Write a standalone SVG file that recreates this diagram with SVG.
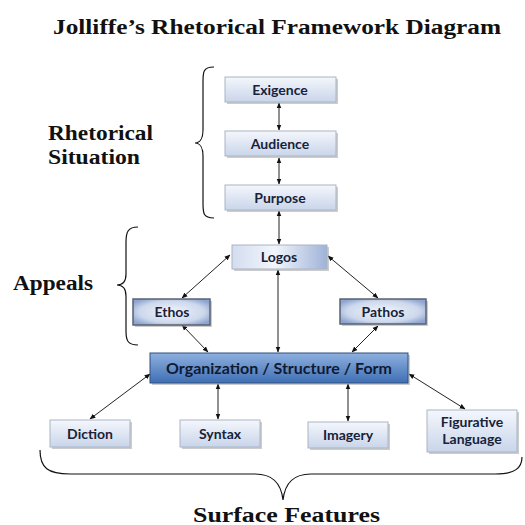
<svg xmlns="http://www.w3.org/2000/svg" width="525" height="525" viewBox="0 0 525 525">
<defs>
<linearGradient id="gLight" x1="0" y1="0" x2="0" y2="1">
<stop offset="0" stop-color="#f4f7fc"/>
<stop offset="1" stop-color="#c9d5ea"/>
</linearGradient>
<linearGradient id="gLogos" x1="0" y1="0" x2="1" y2="0">
<stop offset="0" stop-color="#d3ddef"/>
<stop offset="0.45" stop-color="#f2f5fb"/>
<stop offset="1" stop-color="#9fb3d8"/>
</linearGradient>
<radialGradient id="gMid" cx="0.5" cy="0.5" r="0.6">
<stop offset="0" stop-color="#f2f5fb"/>
<stop offset="0.7" stop-color="#cdd8ec"/>
<stop offset="1" stop-color="#8ea6cf"/>
</radialGradient>
<linearGradient id="gOrg" x1="0" y1="0" x2="0" y2="1">
<stop offset="0" stop-color="#8eb0df"/>
<stop offset="1" stop-color="#3f6fb4"/>
</linearGradient>
<marker id="ah" viewBox="0 0 10 10" refX="9" refY="5" markerWidth="6" markerHeight="6" orient="auto-start-reverse" markerUnits="userSpaceOnUse">
<path d="M0,1 L10,5 L0,9 z" fill="#111"/>
</marker>
</defs>
<style>
.ttl{font-family:"Liberation Serif","DejaVu Serif",serif;font-weight:bold;font-size:20px;fill:#111}
.box{stroke:#a9b4c6;stroke-width:1}
.boxd{stroke:#5a6272;stroke-width:1.5}
.sh{fill:#9a9a9a;opacity:0.5}
.lbl{font-family:Lato,"Liberation Sans",sans-serif;font-weight:bold;font-size:14px;fill:#18223a;text-anchor:middle}
.con{stroke:#222;stroke-width:1;fill:none;marker-start:url(#ah);marker-end:url(#ah)}
.brace{stroke:#111;stroke-width:1.2;fill:none}
</style>
<rect width="525" height="525" fill="#fff"/>
<text class="ttl" x="277" y="34" text-anchor="middle" textLength="448" lengthAdjust="spacingAndGlyphs">Jolliffe’s Rhetorical Framework Diagram</text>

<g id="label-rhetorical">
<text class="ttl" x="48" y="140" textLength="105" lengthAdjust="spacingAndGlyphs">Rhetorical</text>
<text class="ttl" x="48" y="164" textLength="92" lengthAdjust="spacingAndGlyphs">Situation</text>
<path class="brace" d="M214,67 C203,67 203,72 203,82 L203,130 C203,138 200,143 195,143 C200,143 203,148 203,156 L203,203 C203,213 203,218 214,218"/>
</g>
<g id="label-appeals">
<text class="ttl" x="13" y="290" textLength="80" lengthAdjust="spacingAndGlyphs">Appeals</text>
<path class="brace" d="M138,227 C128,227 126,232 126,242 L126,274 C126,281 123,285 117,285 C123,285 126,289 126,296 L126,331 C126,341 128,345 138,345"/>
</g>
<g id="label-surface">
<path class="brace" d="M40,450 C40,468 48,474 70,474 L255,474 C272,474 281,482 283,500 C285,482 294,474 311,474 L495,474 C515,474 522,468 522,457"/>
<text class="ttl" x="193" y="522" textLength="187" lengthAdjust="spacingAndGlyphs">Surface Features</text>
</g>

<g id="connectors">
<line class="con" x1="279" y1="103" x2="279" y2="130"/>
<line class="con" x1="279" y1="158" x2="279" y2="184"/>
<line class="con" x1="279" y1="211" x2="279" y2="244"/>
<line class="con" x1="230" y1="255" x2="182" y2="298"/>
<line class="con" x1="328" y1="256" x2="378" y2="298"/>
<line class="con" x1="278" y1="270" x2="278" y2="352"/>
<line class="con" x1="182" y1="325" x2="208" y2="352"/>
<line class="con" x1="378" y1="326" x2="352" y2="352"/>
<line class="con" x1="150" y1="374" x2="90" y2="419"/>
<line class="con" x1="218" y1="384" x2="218" y2="419"/>
<line class="con" x1="348" y1="384" x2="348" y2="421"/>
<line class="con" x1="409" y1="374" x2="465" y2="409"/>
</g>

<g id="node-exigence">
<rect class="sh" x="227" y="79" width="111" height="25"/>
<rect class="box" x="225" y="77" width="111" height="25" fill="url(#gLight)"/>
<text class="lbl" x="280" y="94.5">Exigence</text>
</g>
<g id="node-audience">
<rect class="sh" x="227" y="133" width="111" height="25"/>
<rect class="box" x="225" y="131" width="111" height="25" fill="url(#gLight)"/>
<text class="lbl" x="280" y="148.5">Audience</text>
</g>
<g id="node-purpose">
<rect class="sh" x="227" y="187" width="111" height="25"/>
<rect class="box" x="225" y="185" width="111" height="25" fill="url(#gLight)"/>
<text class="lbl" x="280" y="202.5">Purpose</text>
</g>
<g id="node-logos">
<rect class="sh" x="234" y="247" width="95" height="24"/>
<rect class="box" x="232" y="245" width="95" height="24" fill="url(#gLogos)"/>
<text class="lbl" x="279" y="262">Logos</text>
</g>
<g id="node-ethos">
<rect class="sh" x="135" y="301" width="77" height="26"/>
<rect class="boxd" x="133" y="299" width="77" height="26" fill="url(#gMid)"/>
<text class="lbl" x="172" y="317">Ethos</text>
</g>
<g id="node-pathos">
<rect class="sh" x="342" y="301" width="86" height="25"/>
<rect class="boxd" x="340" y="299" width="86" height="25" fill="url(#gMid)"/>
<text class="lbl" x="383" y="316.5">Pathos</text>
</g>
<g id="node-org">
<rect class="sh" x="152" y="355" width="258" height="30"/>
<rect x="150" y="353" width="258" height="30" fill="url(#gOrg)" stroke="#2f4f80" stroke-width="1"/>
<text class="lbl" x="279" y="373.5" style="font-size:16px;fill:#0f1a33">Organization / Structure / Form</text>
</g>
<g id="node-diction">
<rect class="sh" x="52" y="422" width="80" height="27"/>
<rect class="box" x="50" y="420" width="80" height="27" fill="url(#gLight)"/>
<text class="lbl" x="90" y="438.5">Diction</text>
</g>
<g id="node-syntax">
<rect class="sh" x="182" y="422" width="80" height="27"/>
<rect class="box" x="180" y="420" width="80" height="27" fill="url(#gLight)"/>
<text class="lbl" x="220" y="438.5">Syntax</text>
</g>
<g id="node-imagery">
<rect class="sh" x="310" y="424" width="80" height="26"/>
<rect class="box" x="308" y="422" width="80" height="26" fill="url(#gLight)"/>
<text class="lbl" x="348" y="440">Imagery</text>
</g>
<g id="node-figurative">
<rect class="sh" x="429" y="412" width="90" height="42"/>
<rect class="box" x="427" y="410" width="90" height="42" fill="url(#gLight)"/>
<text class="lbl" x="472" y="427">Figurative</text>
<text class="lbl" x="472" y="444">Language</text>
</g>
</svg>
